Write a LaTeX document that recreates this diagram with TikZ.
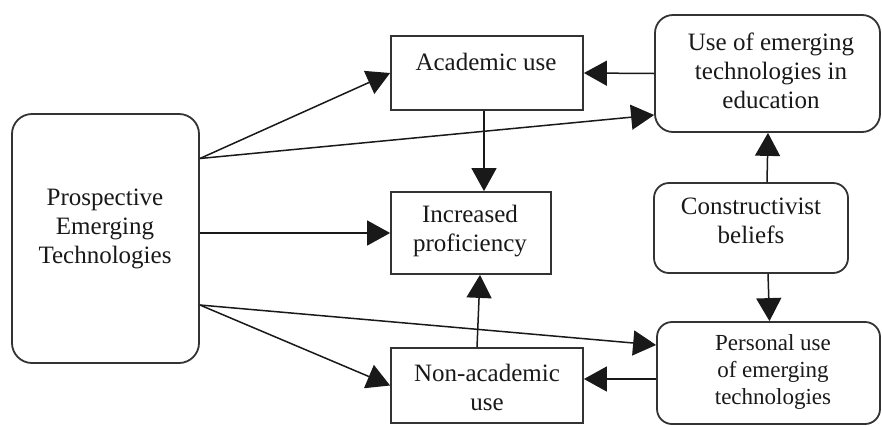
\documentclass[tikz,border=0pt]{standalone}
\usepackage{fontspec}
\setmainfont{Liberation Serif}
\usetikzlibrary{arrows.meta}
\begin{document}
\begin{tikzpicture}[x=1pt,y=-1pt,
  box/.style={draw=black!80,line width=1.8pt,fill=white,inner sep=0pt},
  rbox/.style={box,rounded corners=#1},
  txt/.style={align=center,text=black!90,font=\fontsize{25}{29}\selectfont,inner sep=0pt},
  arr/.style={draw=black!90,line width=1.5pt,-{Triangle[length=23pt,width=25pt]}}]
\useasboundingbox[fill=white] (0,0) rectangle (882,426);
% boxes
\node[rbox=20pt,minimum width=187pt,minimum height=249pt] (left) at (105.5,238.5) {};
\node[box,minimum width=192pt,minimum height=74pt] (acad) at (487,73) {};
\node[rbox=18pt,minimum width=225pt,minimum height=117pt] (use) at (767.5,73.5) {};
\node[box,minimum width=160pt,minimum height=82pt] (prof) at (471,233) {};
\node[rbox=15pt,minimum width=194pt,minimum height=90pt] (const) at (751,228) {};
\node[box,minimum width=192pt,minimum height=75pt] (nonacad) at (487,385.5) {};
\node[rbox=15pt,minimum width=223pt,minimum height=102pt] (pers) at (768.5,373) {};
% texts
\node[txt] (leftT) at (105,229) {Prospective\\Emerging\\Technologies};
\node[txt] (acadT) at (486,62) {Academic use};
\node[txt] (useT) at (771,71) {Use of emerging\\technologies in\\education};
\node[txt] (profT) at (470,231) {Increased\\proficiency};
\node[txt] (constT) at (751,221) {Constructivist\\beliefs};
\node[txt] (nonacadT) at (487,387) {Non-academic\\use};
\node[txt,font=\fontsize{23}{27}\selectfont] (persT) at (773,372) {Personal use\\of emerging\\technologies};
% ports
\coordinate (LU) at ([yshift=80pt]left.east);
\coordinate (LD) at ([yshift=-66.5pt]left.east);
\coordinate (P1) at (484,0);
\coordinate (PW) at ([yshift=-6pt]pers.west);
% connectors
\draw[arr] (use.west) -- (acad.east);
\draw[arr] (LU) -- (acad.west);
\draw[arr] (LU) -- ([yshift=-41.5pt]use.west);
\draw[arr] (left.east |- prof.west) -- (prof.west);
\draw[arr] (acad.south -| P1) -- (prof.north -| P1);
\draw[arr] ([xshift=-10pt]nonacad.north) -- ([xshift=9pt]prof.south);
\draw[arr] (LD) -- (nonacad.west);
\draw[arr] (LD) -- ([yshift=28pt]pers.west);
\draw[arr] ([xshift=16pt]const.north) -- ([xshift=0.5pt]use.south);
\draw[arr] ([xshift=17pt]const.south) -- ([xshift=1pt]pers.north);
\draw[arr] (PW) -- (nonacad.east |- PW);
\end{tikzpicture}
\end{document}
